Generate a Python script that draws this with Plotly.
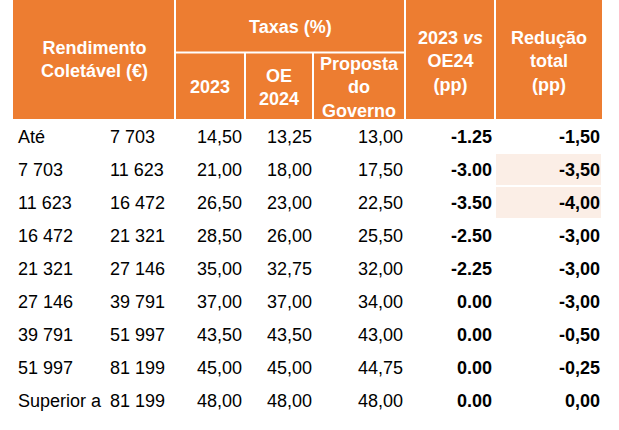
import plotly.graph_objects as go

# ---------------- data ----------------
income_lower = ["Até", 7703, 11623, 16472, 21321, 27146, 39791, 51997, "Superior a"]
income_upper = [7703, 11623, 16472, 21321, 27146, 39791, 51997, 81199, 81199]
rate_2023 = [14.50, 21.00, 26.50, 28.50, 35.00, 37.00, 43.50, 45.00, 48.00]
rate_oe2024 = [13.25, 18.00, 23.00, 26.00, 32.75, 37.00, 43.50, 45.00, 48.00]
rate_proposta = [13.00, 17.50, 22.50, 25.50, 32.00, 34.00, 43.00, 44.75, 48.00]
diff_2023_vs_oe24 = [-1.25, -3.00, -3.50, -2.50, -2.25, 0.00, 0.00, 0.00, 0.00]
reducao_total = [-1.50, -3.50, -4.00, -3.00, -3.00, -3.00, -0.50, -0.25, 0.00]
highlight_rows_reducao = [1, 2]

header_group = "Taxas (%)"
header_income = "Rendimento<br>Coletável (€)"
header_sub = ["2023", "OE<br>2024", "Proposta<br>do<br>Governo"]
header_vs = "2023 <i>vs</i><br>OE24<br>(pp)"
header_red = "Redução<br>total<br>(pp)"

# ---------------- formatting helpers ----------------
def fmt_int(v):
    if isinstance(v, str):
        return v
    return f"{v:,}".replace(",", " ")

def fmt_comma(v):
    return f"{v:.2f}".replace(".", ",")

def fmt_dot(v):
    return f"{v:.2f}"

# ---------------- layout constants ----------------
W, H = 619, 430
ORANGE = "#ED7D31"
PEACH = "#FBEEE6"
FONT = "Liberation Sans, Arial, sans-serif"
FS = 18

x_left, x_right = 13, 602
edges = [13, 175, 245, 313, 405, 495, 602]
hdr_top, hdr_mid, hdr_bot = 0, 52.5, 119
body_top = 120
row_h = 33

fig = go.Figure()

shapes = []
# header background
shapes.append(dict(type="rect", xref="x", yref="y", x0=x_left, x1=x_right, y0=hdr_top, y1=hdr_bot,
                   fillcolor=ORANGE, line=dict(width=0), layer="above"))
# white separators
sep = dict(color="white", width=2)
for xe in [edges[1], edges[4], edges[5]]:
    shapes.append(dict(type="line", xref="x", yref="y", x0=xe, x1=xe, y0=hdr_top, y1=hdr_bot, line=sep))
for xe in [edges[2], edges[3]]:
    shapes.append(dict(type="line", xref="x", yref="y", x0=xe, x1=xe, y0=hdr_mid, y1=hdr_bot, line=sep))
shapes.append(dict(type="line", xref="x", yref="y", x0=edges[1], x1=edges[4], y0=hdr_mid, y1=hdr_mid, line=sep))

# highlighted cells in "Redução total"
for r in highlight_rows_reducao:
    shapes.append(dict(type="rect", xref="x", yref="y", x0=edges[5] + 1, x1=edges[6] - 1,
                       y0=body_top + r * row_h + 1, y1=body_top + (r + 1) * row_h - 1,
                       fillcolor=PEACH, line=dict(width=0), layer="below"))

ann = []
def add(text, x, y, xanchor="center", bold=False, color="black"):
    ann.append(dict(text=(f"<b>{text}</b>" if bold else text), x=x, y=y, xref="x", yref="y",
                    xanchor=xanchor, yanchor="middle", showarrow=False, borderpad=0,
                    font=dict(family=FONT, size=FS, color=color), align="center"))

# header texts
add(header_income, (edges[0] + edges[1]) / 2, 59, bold=True, color="white")
add(header_group, (edges[1] + edges[4]) / 2, 27, bold=True, color="white")
for i, t in enumerate(header_sub):
    add(t, (edges[1 + i] + edges[2 + i]) / 2, 87, bold=True, color="white")
add(header_vs, (edges[4] + edges[5]) / 2, 61, bold=True, color="white")
add(header_red, (edges[5] + edges[6]) / 2, 61, bold=True, color="white")

# body columns: (values, formatter, anchor x, xanchor, bold)
columns = [
    (income_lower, fmt_int, 17, "left", False),
    (income_upper, fmt_int, 109, "left", False),
    (rate_2023, fmt_comma, 242.5, "right", False),
    (rate_oe2024, fmt_comma, 312.5, "right", False),
    (rate_proposta, fmt_comma, 403.5, "right", False),
    (diff_2023_vs_oe24, fmt_dot, 492.5, "right", True),
    (reducao_total, fmt_comma, 600.5, "right", True),
]
for vals, f, xa, anc, bold in columns:
    for r, v in enumerate(vals):
        add(f(v), xa, body_top + r * row_h + row_h / 2, xanchor=anc, bold=bold)

fig.update_layout(
    width=W, height=H, margin=dict(l=0, r=0, t=0, b=0),
    paper_bgcolor="white", plot_bgcolor="white",
    xaxis=dict(range=[0, W], visible=False, fixedrange=True),
    yaxis=dict(range=[H, 0], visible=False, fixedrange=True),
    shapes=shapes, annotations=ann, showlegend=False,
)
fig.write_html("out.html", config=dict(displayModeBar=False),
               post_script="document.body.style.margin='0';document.body.style.overflow='hidden';")
